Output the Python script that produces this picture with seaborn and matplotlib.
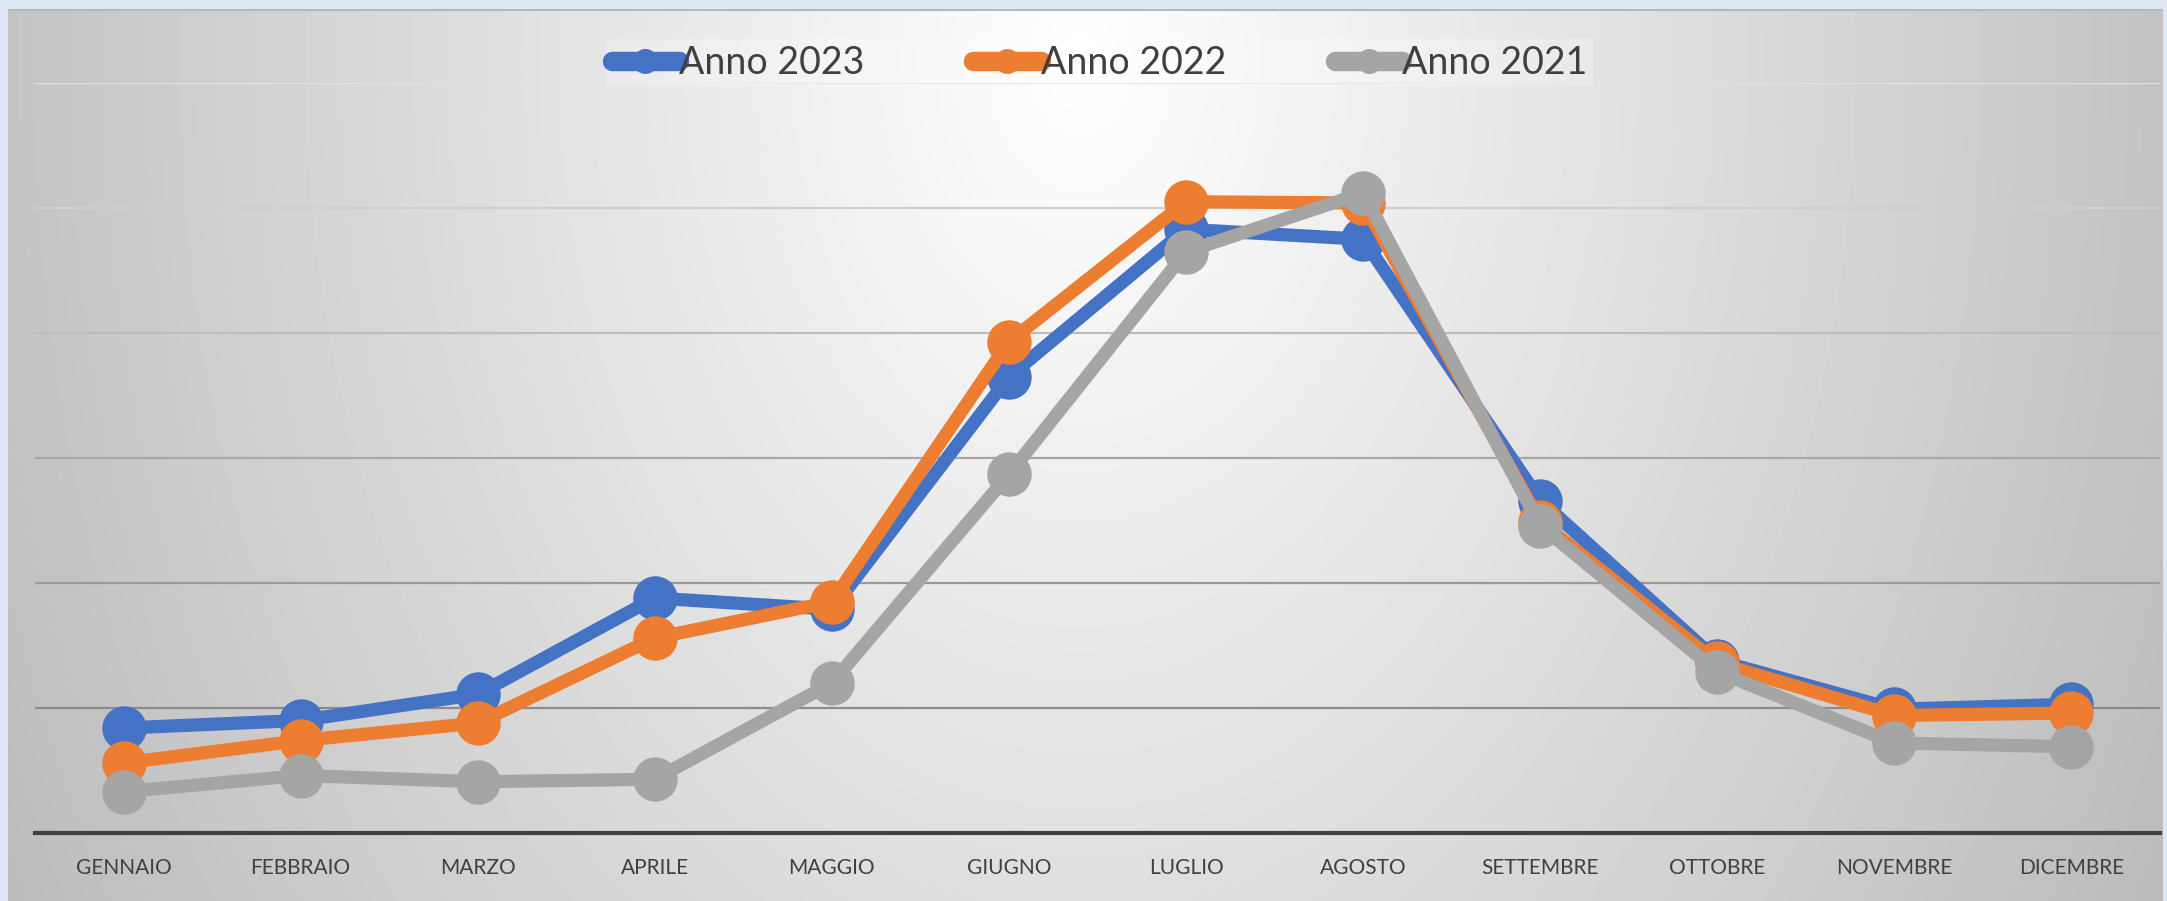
import numpy as np
import pandas as pd
import matplotlib
matplotlib.use("Agg")
import matplotlib.pyplot as plt
from matplotlib.lines import Line2D
import seaborn as sns

### ------------------------------------------------------------------------------------ ###
### Data (in gridline units - the chart has no y labels)

mesi = ["GENNAIO", "FEBBRAIO", "MARZO", "APRILE", "MAGGIO", "GIUGNO",
        "LUGLIO", "AGOSTO", "SETTEMBRE", "OTTOBRE", "NOVEMBRE", "DICEMBRE"]
anni = ["Anno 2023", "Anno 2022", "Anno 2021"]

anno_2023 = [0.84, 0.90, 1.11, 1.88, 1.79, 3.65, 4.83, 4.75, 2.66, 1.38, 0.99, 1.03]
anno_2022 = [0.56, 0.74, 0.88, 1.56, 1.85, 3.93, 5.05, 5.04, 2.49, 1.36, 0.94, 0.96]
anno_2021 = [0.33, 0.46, 0.41, 0.43, 1.20, 2.87, 4.65, 5.12, 2.46, 1.29, 0.72, 0.69]

colori = ["#4472C4", "#ED7D31", "#A5A5A5"]

df = pd.DataFrame({
    "Mese": mesi * 3,
    "Valore": anno_2023 + anno_2022 + anno_2021,
    "Anno": [a for a in anni for _ in mesi],
})

font = ["Lato", "DejaVu Sans"]

### ------------------------------------------------------------------------------------ ###
### Figure + background

W, H = 2167, 901
fig = plt.figure(figsize=(W / 100, H / 100), dpi=100)
fig.patch.set_facecolor("#dde8f4")

# radial grey->white gradient behind the plot (white near top centre)
bg = fig.add_axes([8 / W, 0, (2163 - 8) / W, (H - 9) / H], zorder=-2)
xx, yy = np.meshgrid(np.arange(8, 2163), np.arange(9, H))
r = np.sqrt(((xx - 1080) / 1050.0) ** 2 + ((yy - 60) / 1500.0) ** 2)
shade = np.clip(255 - 58 * r, 0, 255) / 255.0
bg.imshow(shade, cmap="gray", vmin=0, vmax=1, aspect="auto", interpolation="bilinear")
bg.set_axis_off()
bg.axhline(0, color="#b8b8b8", lw=1.5)

left, right = 35, 2160
top, base = 83, 833
ax = fig.add_axes([left / W, (H - base) / H, (right - left) / W, (base - top) / H])
ax.set_facecolor("none")

sns.lineplot(data=df, x="Mese", y="Valore", hue="Anno", palette=colori,
             marker="o", markersize=32, markeredgewidth=0, linewidth=9.5,
             sort=False, legend=False, ax=ax)

ax.set_xlim(-0.5, len(mesi) - 0.5)
ax.set_ylim(0, 6)
ax.set_yticks(range(0, 7))
ax.set_yticklabels([])
ax.set_xlabel("")
ax.set_ylabel("")
ax.tick_params(axis="both", length=0)
ax.tick_params(axis="x", pad=18, labelsize=15, labelcolor="#404040")
for lab in ax.get_xticklabels():
    lab.set_family(font)

# gridlines, lighter towards the top
ax.yaxis.grid(True, linewidth=1.6)
grid_cols = ["#404040", "#8c8c8c", "#9a9a9a", "#a8a8a8", "#bdbdbd", "#cfcfcf", "#e2e2e2"]
for gl, c in zip(ax.get_ygridlines(), grid_cols):
    gl.set_color(c)
ax.set_axisbelow(True)
for s in ["top", "right", "left"]:
    ax.spines[s].set_visible(False)
ax.spines["bottom"].set_color("#404040")
ax.spines["bottom"].set_linewidth(3)

handles = [Line2D([], [], color=c, lw=14, marker="o", markersize=18,
                  markeredgewidth=0, solid_capstyle="round") for c in colori]
leg = ax.legend(handles, anni, loc="center", bbox_to_anchor=(0.501, 1.027),
                ncol=3, frameon=True, fancybox=False, facecolor="#ffffff",
                edgecolor="none", framealpha=0.25, handlelength=1.8,
                handletextpad=0.0, columnspacing=2.9, borderpad=0.15,
                prop={"family": font, "size": 27})
for t in leg.get_texts():
    t.set_color("#404040")

fig.savefig("out.png", dpi=100)
